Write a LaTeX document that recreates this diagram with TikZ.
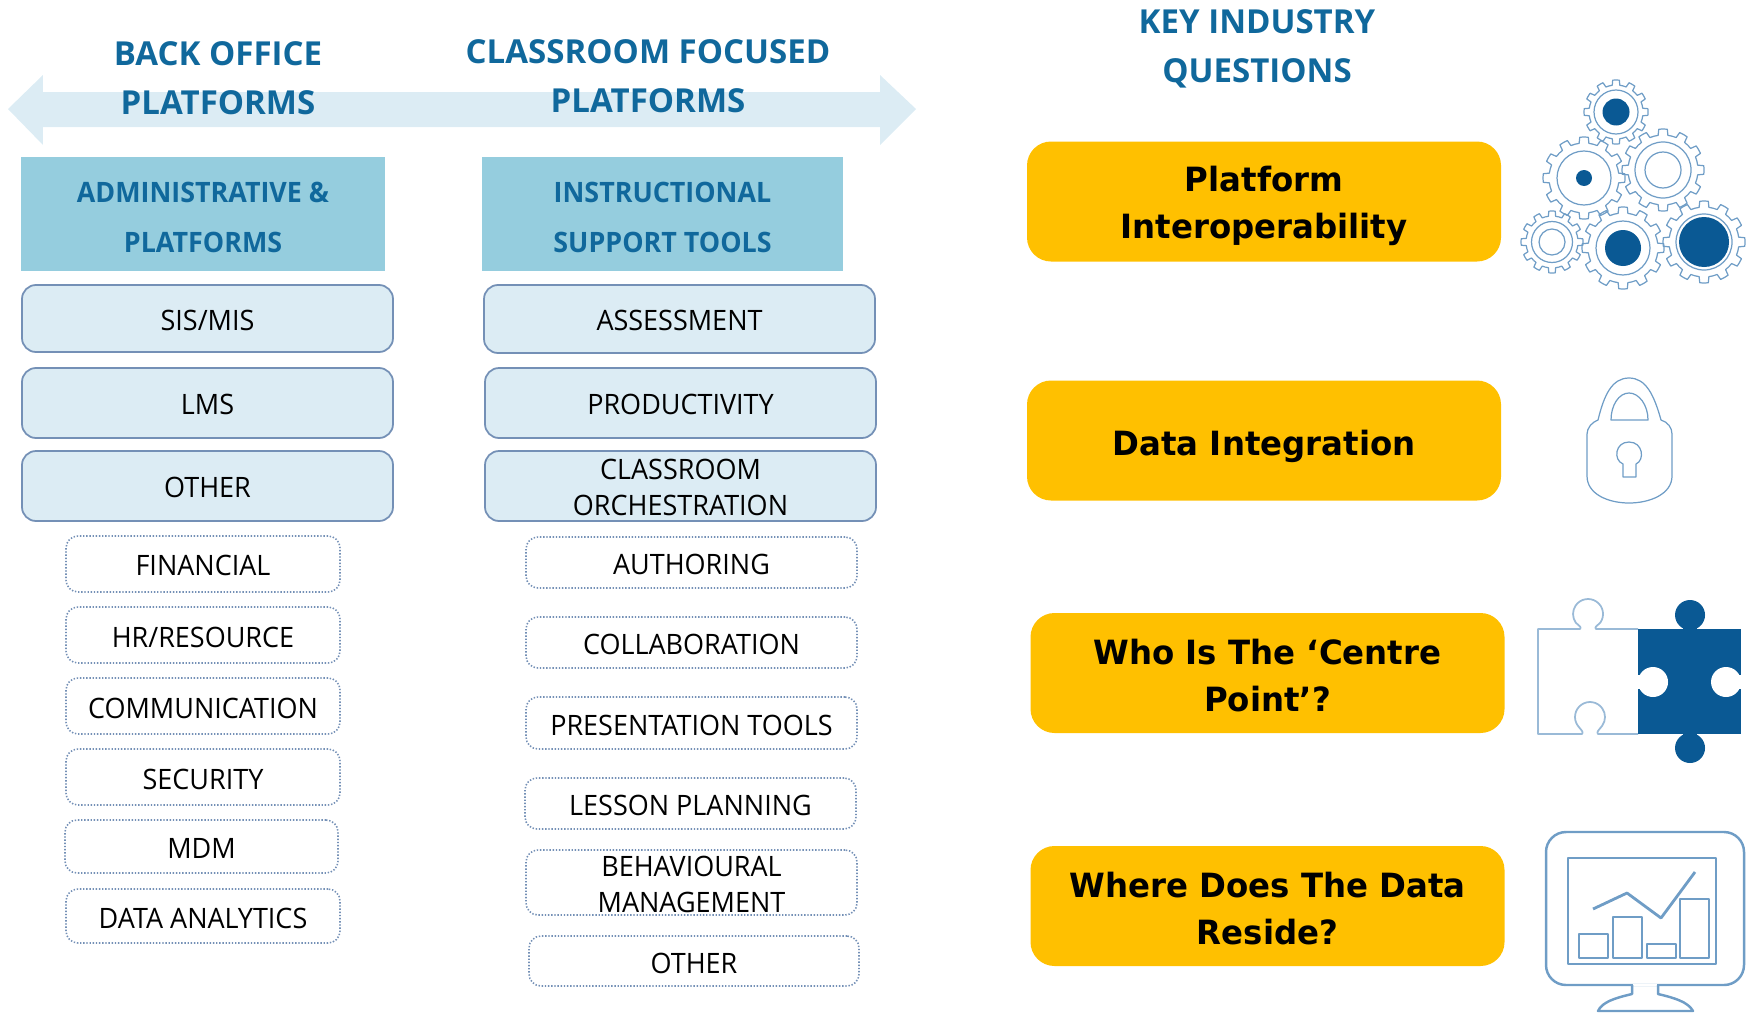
\documentclass[tikz,border=0pt]{standalone}
\usepackage{fontspec}
\setmainfont{Open Sans}
\newfontfamily\narrowfont[FakeStretch=0.96]{Open Sans}
\newfontfamily\headfont[FakeStretch=0.955]{Open Sans}
\newfontfamily\yellowfont[FakeStretch=0.97]{DejaVu Sans}
\definecolor{headblue}{HTML}{10689C}
\definecolor{paleblue}{HTML}{DCECF4}
\definecolor{midblue}{HTML}{95CDDE}
\definecolor{edgeblue}{HTML}{7490B6}
\definecolor{gold}{HTML}{FFC000}
\definecolor{deepblue}{HTML}{0A5994}
\definecolor{iconline}{HTML}{6F9DC6}
\tikzset{
	title/.style={text=headblue, align=center, font=\fontsize{9.4}{13.9}\selectfont\bfseries},
	headbox/.style={fill=midblue, text=headblue, align=center, text height=21.8pt, font=\headfont\fontsize{8}{14.2}\selectfont\bfseries},
	solidbox/.style={draw=edgeblue, fill=paleblue, rounded corners=0.14cm, line width=0.5pt, align=center, inner sep=0pt, text height=6.9pt, font=\narrowfont\fontsize{8}{10.2}\selectfont},
	dotbox/.style={draw=edgeblue, dash pattern=on 0.4pt off 0.5pt, rounded corners=0.12cm, line width=0.45pt, align=center, inner sep=0pt, text height=6.9pt, font=\narrowfont\fontsize{8}{10.2}\selectfont},
	goldbox/.style={fill=gold, rounded corners=0.24cm, align=center, minimum width=4.74cm, minimum height=1.2cm, inner sep=0pt, font=\yellowfont\fontsize{9.5}{13.4}\selectfont\bfseries},
	icon/.style={draw=iconline, line width=0.35pt, line join=round}
}
% one cog wheel: x, y, outer radius, inner radius, ring radius
\newcommand{\cogwheel}[5]{
	\foreach \a in {0,30,...,330} {
		\draw[icon, shift={(#1,#2)}] (\a-15:#4) arc[start angle=\a-15, end angle=\a-8, radius=#4]
			-- (\a-6:#3) arc[start angle=\a-6, end angle=\a+6, radius=#3]
			-- (\a+8:#4) arc[start angle=\a+8, end angle=\a+15, radius=#4];
	}
	\draw[icon] (#1,#2) circle (#5);
}
\begin{document}
\begin{tikzpicture}[y=-1cm]
	\useasboundingbox (0,0) rectangle (17.47,10.16);

	% double arrow behind the titles
	\fill[paleblue] (0.08,1.09) -- (0.43,0.75) -- (0.43,0.92) -- (8.80,0.92) -- (8.80,0.75)
		-- (9.16,1.09) -- (8.80,1.45) -- (8.80,1.27) -- (0.43,1.27) -- (0.43,1.45) -- cycle;

	% column titles
	\node[title] (backoffice) at (2.18,0.78) {BACK OFFICE\\PLATFORMS};
	\node[title] (classroom) at (6.48,0.76) {CLASSROOM FOCUSED\\PLATFORMS};
	\node[title] (questions) at (12.57,0.49) {KEY INDUSTRY\\QUESTIONS};

	% header boxes
	\node[headbox, minimum width=3.64cm, minimum height=1.14cm] (admin) at (2.03,2.14) {ADMINISTRATIVE \&\\PLATFORMS};
	\node[headbox, minimum width=3.61cm, minimum height=1.14cm] (instruct) at (6.625,2.14) {INSTRUCTIONAL\\SUPPORT TOOLS};

	% solid boxes, left
	\node[solidbox, minimum width=3.71cm, minimum height=0.67cm] (sis) at (2.075,3.185) {SIS/MIS};
	\node[solidbox, minimum width=3.71cm, minimum height=0.70cm] (lms) at (2.075,4.03) {LMS};
	\node[solidbox, minimum width=3.71cm, minimum height=0.70cm] (other) at (2.075,4.86) {OTHER};

	% solid boxes, right
	\node[solidbox, minimum width=3.91cm, minimum height=0.68cm] (assess) at (6.795,3.19) {ASSESSMENT};
	\node[solidbox, minimum width=3.91cm, minimum height=0.70cm] (product) at (6.805,4.03) {PRODUCTIVITY};
	\node[solidbox, minimum width=3.91cm, minimum height=0.70cm, text height=17pt] (orchest) at (6.805,4.86) {CLASSROOM\\ORCHESTRATION};

	% dotted boxes, left
	\node[dotbox, minimum width=2.74cm, minimum height=0.56cm] (financial) at (2.03,5.64) {FINANCIAL};
	\node[dotbox, minimum width=2.74cm, minimum height=0.56cm] (resource) at (2.03,6.35) {HR/RESOURCE};
	\node[dotbox, minimum width=2.74cm, minimum height=0.56cm] (comm) at (2.03,7.06) {COMMUNICATION};
	\node[dotbox, minimum width=2.74cm, minimum height=0.56cm] (security) at (2.03,7.77) {SECURITY};
	\node[dotbox, minimum width=2.73cm, minimum height=0.53cm] (mdm) at (2.015,8.465) {MDM};
	\node[dotbox, minimum width=2.74cm, minimum height=0.54cm] (analytics) at (2.03,9.16) {DATA ANALYTICS};

	% dotted boxes, right
	\node[dotbox, minimum width=3.31cm, minimum height=0.51cm] (authoring) at (6.915,5.625) {AUTHORING};
	\node[dotbox, minimum width=3.31cm, minimum height=0.51cm] (collab) at (6.915,6.425) {COLLABORATION};
	\node[dotbox, minimum width=3.31cm, minimum height=0.52cm] (present) at (6.915,7.23) {PRESENTATION TOOLS};
	\node[dotbox, minimum width=3.31cm, minimum height=0.51cm] (lesson) at (6.905,8.035) {LESSON PLANNING};
	\node[dotbox, minimum width=3.31cm, minimum height=0.65cm, text height=17pt] (behaviour) at (6.915,8.825) {BEHAVIOURAL\\MANAGEMENT};
	\node[dotbox, minimum width=3.30cm, minimum height=0.50cm] (rest) at (6.94,9.61) {OTHER};

	% key questions
	\node[goldbox, text height=23.3pt] (interop) at (12.64,2.015) {Platform\\Interoperability};
	\node[goldbox, text height=10.5pt] (integration) at (12.64,4.405) {Data Integration};
	\node[goldbox, text height=22pt] (centre) at (12.675,6.73) {Who Is The ‘Centre\\Point’?};
	\node[goldbox, text height=22.3pt] (reside) at (12.675,9.06) {Where Does The Data\\Reside?};

	% cog wheels
	\cogwheel{16.16}{1.12}{0.32}{0.27}{0.22}
	\fill[deepblue] (16.16,1.12) circle (0.135);
	\cogwheel{15.84}{1.78}{0.41}{0.35}{0.27}
	\fill[deepblue] (15.84,1.78) circle (0.08);
	\cogwheel{16.63}{1.70}{0.41}{0.35}{0.28}
	\draw[icon] (16.63,1.70) circle (0.18);
	\cogwheel{15.52}{2.42}{0.31}{0.26}{0.205}
	\draw[icon] (15.52,2.42) circle (0.13);
	\cogwheel{16.23}{2.48}{0.41}{0.35}{0.27}
	\fill[deepblue] (16.23,2.48) circle (0.18);
	\cogwheel{17.04}{2.42}{0.41}{0.35}{0.28}
	\fill[deepblue] (17.04,2.42) circle (0.25);

	% padlock
	\draw[icon] (15.98,4.20) .. controls (16.04,3.95) and (16.12,3.78) .. (16.29,3.78)
		.. controls (16.46,3.78) and (16.54,3.95) .. (16.61,4.20)
		.. controls (16.68,4.22) and (16.72,4.28) .. (16.72,4.34) -- (16.72,4.76)
		.. controls (16.72,4.94) and (16.50,5.03) .. (16.29,5.03)
		.. controls (16.08,5.03) and (15.87,4.94) .. (15.87,4.76) -- (15.87,4.34)
		.. controls (15.87,4.28) and (15.92,4.22) .. (15.98,4.20) -- cycle;
	\draw[icon] (16.11,4.20) .. controls (16.11,4.05) and (16.19,3.93) .. (16.29,3.93)
		.. controls (16.39,3.93) and (16.48,4.05) .. (16.48,4.20) -- cycle;
	\draw[icon] (16.23,4.77) -- (16.23,4.64) .. controls (16.13,4.60) and (16.15,4.42) .. (16.29,4.42)
		.. controls (16.43,4.42) and (16.45,4.60) .. (16.36,4.64) -- (16.36,4.77) -- cycle;

	% puzzle, open piece
	\draw[icon, draw=iconline!70, line width=0.5pt] (16.38,6.29) -- (15.96,6.29)
		.. controls (15.94,6.27) and (15.97,6.26) .. (16.003,6.226)
		arc[start angle=35, end angle=-215, radius=0.15]
		.. controls (15.79,6.26) and (15.82,6.27) .. (15.80,6.29)
		-- (15.38,6.29) -- (15.38,7.34) -- (15.82,7.34)
		.. controls (15.84,7.32) and (15.81,7.30) .. (15.777,7.256)
		arc[start angle=145, end angle=395, radius=0.15]
		.. controls (15.99,7.30) and (15.96,7.32) .. (15.98,7.34) -- (16.38,7.34);

	% puzzle, filled piece
	\fill[deepblue] (16.38,6.29) rectangle (17.41,7.34);
	\fill[deepblue] (16.90,6.15) circle (0.15);
	\fill[deepblue] (16.90,7.48) circle (0.15);
	\fill[deepblue] (16.83,6.20) rectangle (16.97,6.30);
	\fill[deepblue] (16.83,7.33) rectangle (16.97,7.43);
	\fill[white] (16.53,6.82) circle (0.15);
	\fill[white] (17.26,6.82) circle (0.15);
	\fill[white] (16.37,6.75) rectangle (16.45,6.89);
	\fill[white] (17.34,6.75) rectangle (17.43,6.89);

	% monitor
	\draw[icon, line width=0.7pt, rounded corners=0.2cm] (15.46,8.32) rectangle (17.44,9.85);
	\fill[white] (16.33,9.84) rectangle (16.57,9.86);
	\draw[icon, line width=0.7pt] (16.32,9.85) -- (16.32,9.94) .. controls (16.15,9.98) and (16.02,10.02) .. (15.98,10.11)
		-- (16.93,10.11) .. controls (16.88,10.02) and (16.75,9.98) .. (16.58,9.94) -- (16.58,9.85);
	\draw[icon, line width=0.7pt] (15.68,8.58) rectangle (17.16,9.64);
	\draw[icon, line width=0.8pt] (15.79,9.34) rectangle (16.08,9.58);
	\draw[icon, line width=0.8pt] (16.13,9.17) rectangle (16.42,9.58);
	\draw[icon, line width=0.8pt] (16.47,9.44) rectangle (16.76,9.58);
	\draw[icon, line width=0.8pt] (16.80,8.99) rectangle (17.09,9.58);
	\draw[icon, line width=0.8pt] (15.93,9.09) -- (16.27,8.93) -- (16.61,9.18) -- (16.95,8.72);
\end{tikzpicture}
\end{document}
